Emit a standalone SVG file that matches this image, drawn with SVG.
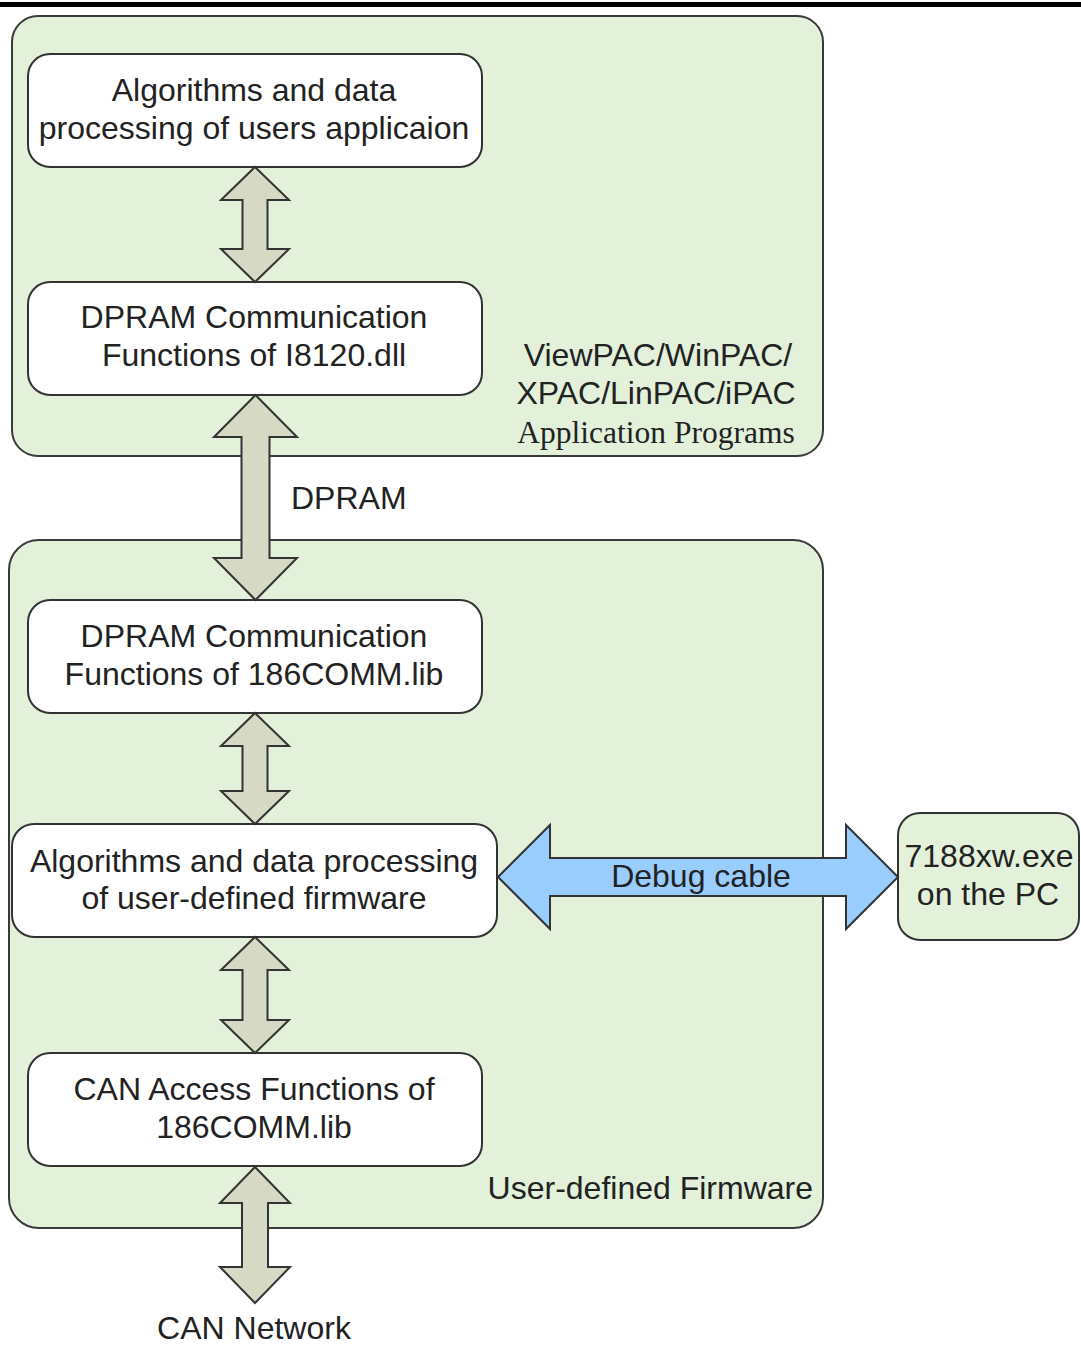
<svg xmlns="http://www.w3.org/2000/svg" width="1081" height="1345" viewBox="0 0 1081 1345">
<style>
  .bg { fill: #ffffff; }
  .container { fill: #E3F1DB; stroke: #3a3a3a; stroke-width: 2; }
  .node { fill: #ffffff; stroke: #333333; stroke-width: 2; }
  .pc { fill: #E3F1DB; stroke: #333333; stroke-width: 2; }
  .arrow { fill: #D6D9C4; stroke: #333333; stroke-width: 2; stroke-linejoin: miter; }
  .debug { fill: #99CCFF; stroke: #333333; stroke-width: 2; }
  text { font-family: "Liberation Sans", Arial, sans-serif; font-size: 32px; fill: #222222; }
  .mid { text-anchor: middle; }
  .serif { font-family: "Liberation Serif", "Times New Roman", serif; font-size: 31.5px; }
</style>
<rect class="bg" x="0" y="0" width="1081" height="1345"/>
<rect x="0" y="2" width="1081" height="5" fill="#000000"/>

<g id="container-app">
  <rect class="container" x="12" y="16" width="811" height="440" rx="26" ry="26"/>
  <text class="mid" x="658" y="366">ViewPAC/WinPAC/</text>
  <text class="mid" x="656" y="404">XPAC/LinPAC/iPAC</text>
  <text class="mid serif" x="656" y="443">Application Programs</text>
</g>

<g id="container-firmware">
  <rect class="container" x="9" y="540" width="814" height="688" rx="30" ry="30"/>
  <text x="813" y="1199" text-anchor="end">User-defined Firmware</text>
</g>

<g id="node-user-app">
  <rect class="node" x="28" y="54" width="454" height="113" rx="22" ry="22"/>
  <text class="mid" x="254" y="101">Algorithms and data</text>
  <text class="mid" x="254" y="139">processing of users applicaion</text>
</g>

<g id="node-dpram-dll">
  <rect class="node" x="28" y="282" width="454" height="113" rx="22" ry="22"/>
  <text class="mid" x="254" y="328">DPRAM Communication</text>
  <text class="mid" x="254" y="366">Functions of I8120.dll</text>
</g>

<g id="node-dpram-lib">
  <rect class="node" x="28" y="600" width="454" height="113" rx="22" ry="22"/>
  <text class="mid" x="254" y="647">DPRAM Communication</text>
  <text class="mid" x="254" y="685">Functions of 186COMM.lib</text>
</g>

<g id="node-firmware-algo">
  <rect class="node" x="12" y="824" width="485" height="113" rx="22" ry="22"/>
  <text class="mid" x="254" y="872">Algorithms and data processing</text>
  <text class="mid" x="254" y="909">of user-defined firmware</text>
</g>

<g id="node-can-access">
  <rect class="node" x="28" y="1053" width="454" height="113" rx="22" ry="22"/>
  <text class="mid" x="254" y="1100">CAN Access Functions of</text>
  <text class="mid" x="254" y="1138">186COMM.lib</text>
</g>

<g id="node-pc">
  <rect class="pc" x="898" y="813" width="181" height="127" rx="22" ry="22"/>
  <text class="mid" x="989" y="867">7188xw.exe</text>
  <text class="mid" x="988" y="905">on the PC</text>
</g>

<g id="connectors">
  <path class="arrow" d="M255,167 L289,200 L267.5,200 L267.5,249 L289,249 L255,282 L221,249 L242.5,249 L242.5,200 L221,200 Z"/>
  <path class="arrow" d="M255.5,395 L297,437 L269.5,437 L269.5,558 L297,558 L255.5,600 L214,558 L241.5,558 L241.5,437 L214,437 Z"/>
  <path class="arrow" d="M255,713 L289,746 L267.5,746 L267.5,791 L289,791 L255,824 L221,791 L242.5,791 L242.5,746 L221,746 Z"/>
  <path class="arrow" d="M255,937 L289,970 L267.5,970 L267.5,1020 L289,1020 L255,1053 L221,1020 L242.5,1020 L242.5,970 L221,970 Z"/>
  <path class="arrow" d="M255,1167 L290,1203 L268,1203 L268,1267 L290,1267 L255,1303 L220,1267 L242,1267 L242,1203 L220,1203 Z"/>
  <path class="debug" d="M498,877 L550,825 L550,858 L846,858 L846,825 L898,877 L846,929 L846,896 L550,896 L550,929 Z"/>
  <text x="291" y="509">DPRAM</text>
  <text class="mid" x="701" y="887">Debug cable</text>
  <text class="mid" x="254" y="1339">CAN Network</text>
</g>
</svg>
